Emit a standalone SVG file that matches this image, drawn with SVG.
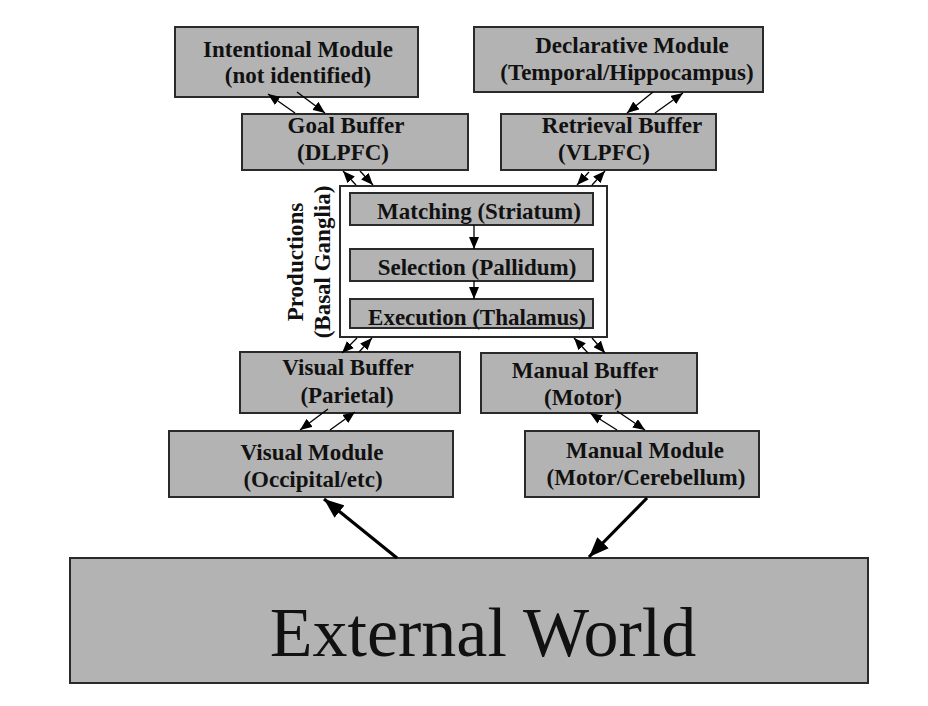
<svg xmlns="http://www.w3.org/2000/svg" width="928" height="706" viewBox="0 0 928 706">
<defs>
<style>
.box{fill:#b3b3b3;stroke:#2a2a2a;stroke-width:2}
.frame{fill:#ffffff;stroke:#2a2a2a;stroke-width:2}
.t{font-family:"Liberation Serif","Times New Roman",serif;font-weight:bold;font-size:23px;fill:#111;text-anchor:middle}
.big{font-family:"Liberation Serif","Times New Roman",serif;font-size:70px;fill:#111;text-anchor:middle}
.c{stroke:#000;stroke-width:1.3;fill:none;marker-end:url(#ah)}
.cb{stroke:#000;stroke-width:3.2;fill:none;marker-end:url(#ahb)}
</style>
<marker id="ah" markerUnits="userSpaceOnUse" markerWidth="12" markerHeight="10" refX="12" refY="5" orient="auto">
<path d="M0,0 L12,5 L0,10 z" fill="#000"/>
</marker>
<marker id="ahb" markerUnits="userSpaceOnUse" markerWidth="20" markerHeight="16" refX="20" refY="8" orient="auto">
<path d="M0,0 L20,8 L0,16 z" fill="#000"/>
</marker>
</defs>
<rect width="928" height="706" fill="#fff"/>

<g id="intentional">
<rect class="box" x="175" y="27" width="243" height="70"/>
<text class="t" x="298" y="57">Intentional Module</text>
<text class="t" x="298" y="83">(not identified)</text>
</g>
<g id="declarative">
<rect class="box" x="474" y="27" width="289" height="65"/>
<text class="t" x="632" y="53">Declarative Module</text>
<text class="t" x="627" y="80">(Temporal/Hippocampus)</text>
</g>
<g id="goal">
<rect class="box" x="242" y="114" width="226" height="56"/>
<text class="t" x="346" y="133">Goal Buffer</text>
<text class="t" x="343" y="160">(DLPFC)</text>
</g>
<g id="retrieval">
<rect class="box" x="501" y="114" width="215" height="56"/>
<text class="t" x="622" y="133">Retrieval Buffer</text>
<text class="t" x="604" y="160">(VLPFC)</text>
</g>
<g id="productions">
<rect class="frame" x="340" y="186" width="267" height="151"/>
<text class="t" transform="translate(303,262) rotate(-90)">Productions</text>
<text class="t" transform="translate(330,262) rotate(-90)">(Basal Ganglia)</text>
</g>
<g id="matching">
<rect class="box" x="350" y="193" width="243" height="32"/>
<text class="t" x="479" y="219">Matching (Striatum)</text>
</g>
<g id="selection">
<rect class="box" x="350" y="249" width="243" height="32"/>
<text class="t" x="477" y="275">Selection (Pallidum)</text>
</g>
<g id="execution">
<rect class="box" x="350" y="299" width="243" height="29"/>
<text class="t" x="477" y="325">Execution (Thalamus)</text>
</g>
<g id="visual-buffer">
<rect class="box" x="240" y="352" width="220" height="61"/>
<text class="t" x="348" y="375">Visual Buffer</text>
<text class="t" x="347" y="403">(Parietal)</text>
</g>
<g id="manual-buffer">
<rect class="box" x="481" y="353" width="216" height="60"/>
<text class="t" x="585" y="378">Manual Buffer</text>
<text class="t" x="583" y="405">(Motor)</text>
</g>
<g id="visual-module">
<rect class="box" x="169" y="431" width="284" height="66"/>
<text class="t" x="312" y="460">Visual Module</text>
<text class="t" x="313" y="487">(Occipital/etc)</text>
</g>
<g id="manual-module">
<rect class="box" x="525" y="431" width="234" height="66"/>
<text class="t" x="645" y="458">Manual Module</text>
<text class="t" x="646" y="485">(Motor/Cerebellum)</text>
</g>
<g id="external-world">
<rect class="box" x="70" y="558" width="798" height="125"/>
<text class="big" x="483" y="656">External World</text>
</g>

<g id="connectors">
<line class="c" x1="295" y1="113" x2="268" y2="94"/>
<line class="c" x1="297" y1="92" x2="325" y2="113"/>
<line class="c" x1="356" y1="185" x2="343" y2="171"/>
<line class="c" x1="360" y1="171" x2="373" y2="185"/>
<line class="c" x1="653" y1="92" x2="627" y2="113"/>
<line class="c" x1="655" y1="113" x2="683" y2="93"/>
<line class="c" x1="589" y1="172" x2="577" y2="185"/>
<line class="c" x1="592" y1="185" x2="605" y2="171"/>
<line class="c" x1="474" y1="225" x2="474" y2="249"/>
<line class="c" x1="474" y1="281" x2="474" y2="299"/>
<line class="c" x1="357" y1="338" x2="342" y2="353"/>
<line class="c" x1="359" y1="352" x2="372" y2="338"/>
<line class="c" x1="588" y1="353" x2="574" y2="338"/>
<line class="c" x1="592" y1="338" x2="605" y2="353"/>
<line class="c" x1="328" y1="409" x2="300" y2="430"/>
<line class="c" x1="330" y1="430" x2="355" y2="412"/>
<line class="c" x1="617" y1="430" x2="590" y2="413"/>
<line class="c" x1="617" y1="411" x2="645" y2="430"/>
<line class="cb" x1="397" y1="558" x2="324" y2="499"/>
<line class="cb" x1="647" y1="498" x2="589" y2="557"/>
</g>
</svg>
